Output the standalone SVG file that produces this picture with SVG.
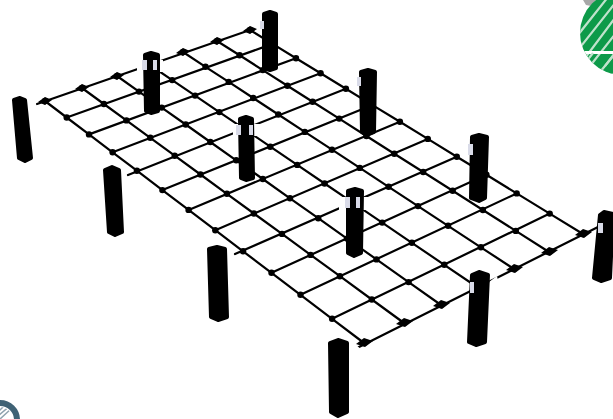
<svg xmlns="http://www.w3.org/2000/svg" width="613" height="419" viewBox="0 0 613 419">
<style>
.grid{fill:none;stroke:#000;stroke-width:2.2;stroke-linecap:round;stroke-linejoin:round}
.post{fill:#000;stroke:#000;stroke-width:4;stroke-linejoin:round}
.mask{fill:#fff}
.hi{fill:#d9dbe8}
</style>
<defs>
<filter id="soft" x="-5%" y="-5%" width="110%" height="110%"><feGaussianBlur stdDeviation="0.7"/></filter>
<marker id="dot" markerUnits="userSpaceOnUse" markerWidth="10" markerHeight="10" refX="5" refY="5"><circle cx="5" cy="5" r="3.200" fill="#000"/></marker>
<clipPath id="swanClip"><circle cx="622" cy="33" r="42"/></clipPath>
<clipPath id="ringClip"><circle cx="0" cy="420" r="13"/></clipPath>
</defs>
<rect width="613" height="419" fill="#fff"/>
<g id="connectors" class="grid" filter="url(#soft)">
<g id="short-lines">
<path d="M37 104L250 30"/><path d="M66.7 117.5L272.6 43.9"/><path d="M89 134.4L296 58.2"/><path d="M112.6 152.3L320.6 73.2"/><path d="M128 175L345.900 88.800"/><path d="M162.400 190.100L372.500 105.100"/><path d="M188.600 209.900L399.900 121.800"/><path d="M215.300 230.200L427.800 138.900"/><path d="M235 254L456.800 156.700"/><path d="M271.500 272.800L486.400 174.800"/><path d="M300.500 294.800L516.700 193.400"/><path d="M332.100 318.800L549.700 213.600"/><path d="M355 349L598 227"/>
</g>
<g id="long-lines" marker-start="url(#dot)" marker-mid="url(#dot)" marker-end="url(#dot)">
<polyline points="45,101 66.700,117.500 89,134.400 112.600,152.300 136.900,170.700 162.400,190.100 188.600,209.900 215.300,230.200 243.100,251.300 271.500,272.800 300.500,294.800 332.100,318.800 364,343"/>
<polyline points="82,88 103.900,104 126.400,120.400 150.300,137.800 174.700,155.700 200.500,174.500 226.900,193.800 253.900,213.500 282,233.900 310.600,254.900 339.900,276.200 371.800,299.500 404,323"/>
<polyline points="117,76 139,91.600 161.700,107.600 185.700,124.500 210.300,142 236.200,160.300 262.800,179 290,198.300 318.200,218.200 347,238.600 376.500,259.400 408.600,282.100 441,305"/>
<polyline points="150,65 172.200,80.100 195.100,95.600 219.300,112.100 244.200,128.900 270.300,146.700 297.200,164.900 324.600,183.500 353.100,202.900 382.200,222.600 411.900,242.800 444.300,264.800 477,287"/>
<polyline points="183,52 205.500,66.800 228.700,81.900 253.200,98 278.300,114.500 304.800,131.900 332,149.700 359.800,167.900 388.600,186.800 418,206.100 448.100,225.800 480.900,247.300 514,269"/>
<polyline points="217,41 239.600,55.300 262.800,70.100 287.400,85.700 312.600,101.800 339.200,118.600 366.400,136 394.300,153.700 423.200,172 452.700,190.800 482.900,210 515.800,230.900 549,252"/>
<polyline points="250,30 272.600,43.900 296,58.200 320.600,73.200 345.900,88.800 372.500,105.100 399.900,121.800 427.800,138.900 456.800,156.700 486.400,174.800 516.700,193.400 549.700,213.600 583,234"/>
</g>
</g>
<g id="edge-nodes" filter="url(#soft)" fill="#000">
<path d="M38 102l7-5 7 3-7 5zM75 89l7-5 7 3-7 5zM110 77l7-5 7 3-7 5zM176 53l7-5 7 3-7 5zM210 42l7-5 7 3-7 5zM243 31l7-5 7 3-7 5zM356 344l8-6 9 3-8 6zM396 324l8-6 9 3-8 6zM433 306l8-6 9 3-8 6zM506 270l8-6 9 3-8 6zM541 253l8-6 9 3-8 6zM575 235l8-6 9 3-8 6z"/>
</g>
<g id="gaps" class="mask">
<path d="M137 60h26v12h-26zM233 124h29v12h-29zM339 197h29v13h-29z"/>
<path d="M489 282l8-6 1 5-7 6zM350 340l12 10-8 4z"/>
</g>
<g filter="url(#soft)">
<g id="post-1"><path class="post" d="M14 100L20 98L25 100L31 158L25 161L19 158Z"/></g>
<g id="post-2"><path class="post" d="M105 170L112 167L119 170L122 232L115 235L109 232Z"/></g>
<g id="post-3"><path class="post" d="M209 249L217 247L225 249L227 317L218 320L211 317Z"/></g>
<g id="post-4"><path class="post" d="M330 343L338 340L347 343L347 412L338 416L331 412Z"/></g>
<g id="post-5"><path class="post" d="M472 275L479 272L488 275L485 342L476 345L469 342Z"/></g>
<g id="post-6"><path class="post" d="M600 215L604 212L613 214L610 278L601 281L594 278Z"/></g>
<g id="post-7"><path class="post" d="M264 14L270 12L276 14L276 68L270 70L264 68Z"/><path class="hi" d="M260 21h4v8h-4z"/></g>
<g id="post-8"><path class="post" d="M145 55L151 53L158 55L158 111L151 113L146 111Z"/><path class="hi" d="M142 60h5v10h-5zM153 60h4v10h-4z"/></g>
<g id="post-9"><path class="post" d="M240 119L246 117L252 119L253 178L246 180L241 178Z"/><path class="hi" d="M236 125h5v10h-5zM249 125h4v10h-4z"/></g>
<g id="post-10"><path class="post" d="M361 72L368 70L375 72L374 132L367 135L362 132Z"/><path class="hi" d="M357 77h4v9h-4z"/></g>
<g id="post-11"><path class="post" d="M472 137L479 135L487 137L485 198L479 201L471 198Z"/><path class="hi" d="M468 144h5v11h-5z"/></g>
<g id="post-12"><path class="post" d="M348 191L355 189L362 191L361 253L354 256L348 253Z"/><path class="hi" d="M345 197h5v11h-5zM356 197h4v11h-4z"/></g>
<path class="hi" d="M470 282h4v11h-4zM598 223h5v10h-5z"/>
</g>
<g id="swan-label" filter="url(#soft)">
<path d="M583 0h13l-5 6-5-1z" fill="#a8a8a8"/>
<circle cx="622" cy="33" r="42" fill="#0c9a48"/>
<g clip-path="url(#swanClip)" stroke="#bfe2cc" stroke-width="2.2">
<path d="M570 45L612 -8M570 60L620 -3M582 62L630 -2M590 66L634 10M605 66L634 28"/>
<path d="M578 52.500H613" stroke="#fff" stroke-width="3"/>
<path d="M586 62L593 53M600 72L614 55M612 76L620 66"/>
</g>
</g>
<g id="ring-label">
<circle cx="0" cy="420" r="17" fill="#fff" stroke="#3f6275" stroke-width="6"/>
<g clip-path="url(#ringClip)" stroke="#8fa3af" stroke-width="1.500">
<path d="M-2 412L8 402M-2 416L11 405M0 419L12 408"/>
</g>
</g>
</svg>
